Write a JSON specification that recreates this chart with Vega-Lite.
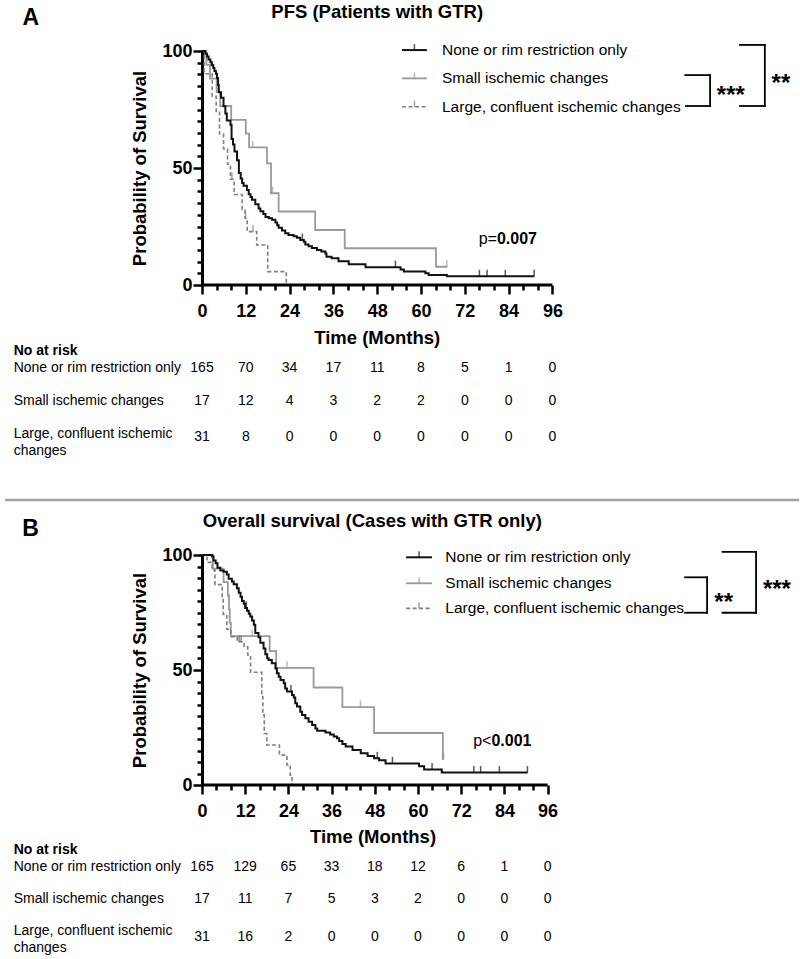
{
  "$schema": "https://vega.github.io/schema/vega-lite/v6.json",
  "padding": {"left": 3, "top": 3, "right": 3, "bottom": 2},
  "autosize": {"type": "pad"},
  "spacing": 270,
  "bounds": "flush",
  "config": {
    "font": "Liberation Sans",
    "view": {"stroke": null},
    "axis": {"grid": false, "labelFont": "Liberation Sans", "titleFont": "Liberation Sans", "labelColor": "#000000", "titleColor": "#000000", "tickColor": "#000000", "domainColor": "#000000"},
    "text": {"color": "#000000", "font": "Liberation Sans"}
  },
  "datasets": {
    "kmA": [
      {"group": "None or rim restriction only", "month": 0, "survival": 100},
      {"group": "None or rim restriction only", "month": 0.9, "survival": 98.8},
      {"group": "None or rim restriction only", "month": 1.4, "survival": 97.6},
      {"group": "None or rim restriction only", "month": 1.8, "survival": 96.4},
      {"group": "None or rim restriction only", "month": 2.3, "survival": 95.2},
      {"group": "None or rim restriction only", "month": 2.7, "survival": 93.9},
      {"group": "None or rim restriction only", "month": 3.1, "survival": 92.7},
      {"group": "None or rim restriction only", "month": 3.4, "survival": 91.5},
      {"group": "None or rim restriction only", "month": 3.8, "survival": 90.3},
      {"group": "None or rim restriction only", "month": 4.1, "survival": 88.5},
      {"group": "None or rim restriction only", "month": 4.4, "survival": 85.5},
      {"group": "None or rim restriction only", "month": 4.6, "survival": 82.4},
      {"group": "None or rim restriction only", "month": 5.2, "survival": 80.0},
      {"group": "None or rim restriction only", "month": 5.9, "survival": 76.4},
      {"group": "None or rim restriction only", "month": 6.4, "survival": 73.3},
      {"group": "None or rim restriction only", "month": 6.8, "survival": 70.3},
      {"group": "None or rim restriction only", "month": 7.8, "survival": 68.5},
      {"group": "None or rim restriction only", "month": 8.1, "survival": 62.4},
      {"group": "None or rim restriction only", "month": 8.5, "survival": 60.0},
      {"group": "None or rim restriction only", "month": 8.9, "survival": 57.0},
      {"group": "None or rim restriction only", "month": 9.6, "survival": 53.3},
      {"group": "None or rim restriction only", "month": 10.1, "survival": 47.9},
      {"group": "None or rim restriction only", "month": 10.6, "survival": 45.5},
      {"group": "None or rim restriction only", "month": 11.0, "survival": 43.6},
      {"group": "None or rim restriction only", "month": 11.4, "survival": 42.4},
      {"group": "None or rim restriction only", "month": 12.3, "survival": 40.6},
      {"group": "None or rim restriction only", "month": 12.8, "survival": 38.8},
      {"group": "None or rim restriction only", "month": 13.3, "survival": 37.6},
      {"group": "None or rim restriction only", "month": 13.7, "survival": 36.4},
      {"group": "None or rim restriction only", "month": 14.6, "survival": 34.5},
      {"group": "None or rim restriction only", "month": 15.5, "survival": 32.7},
      {"group": "None or rim restriction only", "month": 16.0, "survival": 31.5},
      {"group": "None or rim restriction only", "month": 16.8, "survival": 30.3},
      {"group": "None or rim restriction only", "month": 17.4, "survival": 29.1},
      {"group": "None or rim restriction only", "month": 18.3, "survival": 28.5},
      {"group": "None or rim restriction only", "month": 19.2, "survival": 27.9},
      {"group": "None or rim restriction only", "month": 20.1, "survival": 26.7},
      {"group": "None or rim restriction only", "month": 20.6, "survival": 25.5},
      {"group": "None or rim restriction only", "month": 21.0, "survival": 24.5},
      {"group": "None or rim restriction only", "month": 21.9, "survival": 23.3},
      {"group": "None or rim restriction only", "month": 22.8, "survival": 22.1},
      {"group": "None or rim restriction only", "month": 23.7, "survival": 21.4},
      {"group": "None or rim restriction only", "month": 25.1, "survival": 20.8},
      {"group": "None or rim restriction only", "month": 26.0, "survival": 20.2},
      {"group": "None or rim restriction only", "month": 26.9, "survival": 19.2},
      {"group": "None or rim restriction only", "month": 27.9, "survival": 18.5},
      {"group": "None or rim restriction only", "month": 28.3, "survival": 17.3},
      {"group": "None or rim restriction only", "month": 29.2, "survival": 16.6},
      {"group": "None or rim restriction only", "month": 30.1, "survival": 15.8},
      {"group": "None or rim restriction only", "month": 31.5, "survival": 15.0},
      {"group": "None or rim restriction only", "month": 32.7, "survival": 14.3},
      {"group": "None or rim restriction only", "month": 33.8, "survival": 13.5},
      {"group": "None or rim restriction only", "month": 34.1, "survival": 12.1},
      {"group": "None or rim restriction only", "month": 35.5, "survival": 11.4},
      {"group": "None or rim restriction only", "month": 37.4, "survival": 10.2},
      {"group": "None or rim restriction only", "month": 40.2, "survival": 8.9},
      {"group": "None or rim restriction only", "month": 44.8, "survival": 7.6},
      {"group": "None or rim restriction only", "month": 54.4, "survival": 6.6},
      {"group": "None or rim restriction only", "month": 55.3, "survival": 5.8},
      {"group": "None or rim restriction only", "month": 61.2, "survival": 5.0},
      {"group": "None or rim restriction only", "month": 62.1, "survival": 4.3},
      {"group": "None or rim restriction only", "month": 67.1, "survival": 3.7},
      {"group": "None or rim restriction only", "month": 91.0, "survival": 3.7},
      {"group": "Small ischemic changes", "month": 0, "survival": 100},
      {"group": "Small ischemic changes", "month": 1.2, "survival": 94.1},
      {"group": "Small ischemic changes", "month": 2.2, "survival": 88.2},
      {"group": "Small ischemic changes", "month": 4.0, "survival": 82.4},
      {"group": "Small ischemic changes", "month": 5.0, "survival": 76.5},
      {"group": "Small ischemic changes", "month": 8.0, "survival": 70.6},
      {"group": "Small ischemic changes", "month": 12.0, "survival": 64.7},
      {"group": "Small ischemic changes", "month": 12.9, "survival": 58.8},
      {"group": "Small ischemic changes", "month": 17.8, "survival": 52.0},
      {"group": "Small ischemic changes", "month": 18.9, "survival": 39.2},
      {"group": "Small ischemic changes", "month": 21.0, "survival": 31.4},
      {"group": "Small ischemic changes", "month": 31.0, "survival": 23.5},
      {"group": "Small ischemic changes", "month": 39.1, "survival": 15.7},
      {"group": "Small ischemic changes", "month": 64.1, "survival": 7.8},
      {"group": "Small ischemic changes", "month": 67.1, "survival": 7.8},
      {"group": "Large, confluent ischemic changes", "month": 0, "survival": 100},
      {"group": "Large, confluent ischemic changes", "month": 0.6, "survival": 90.3},
      {"group": "Large, confluent ischemic changes", "month": 2.8, "survival": 80.6},
      {"group": "Large, confluent ischemic changes", "month": 3.9, "survival": 74.2},
      {"group": "Large, confluent ischemic changes", "month": 4.8, "survival": 64.5},
      {"group": "Large, confluent ischemic changes", "month": 5.9, "survival": 58.1},
      {"group": "Large, confluent ischemic changes", "month": 7.0, "survival": 51.6},
      {"group": "Large, confluent ischemic changes", "month": 7.8, "survival": 45.2},
      {"group": "Large, confluent ischemic changes", "month": 8.8, "survival": 38.7},
      {"group": "Large, confluent ischemic changes", "month": 11.0, "survival": 32.3},
      {"group": "Large, confluent ischemic changes", "month": 11.8, "survival": 28.5},
      {"group": "Large, confluent ischemic changes", "month": 12.4, "survival": 22.8},
      {"group": "Large, confluent ischemic changes", "month": 15.0, "survival": 17.1},
      {"group": "Large, confluent ischemic changes", "month": 18.0, "survival": 5.7},
      {"group": "Large, confluent ischemic changes", "month": 23.1, "survival": 0}
    ],
    "censorA": [
      {"group": "None or rim restriction only", "month": 27.5, "survival": 19.2},
      {"group": "None or rim restriction only", "month": 53.0, "survival": 7.6},
      {"group": "None or rim restriction only", "month": 76.0, "survival": 3.7},
      {"group": "None or rim restriction only", "month": 78.1, "survival": 3.7},
      {"group": "None or rim restriction only", "month": 83.1, "survival": 3.7},
      {"group": "None or rim restriction only", "month": 91.0, "survival": 3.7},
      {"group": "Small ischemic changes", "month": 13.9, "survival": 58.8},
      {"group": "Small ischemic changes", "month": 19.3, "survival": 39.2},
      {"group": "Small ischemic changes", "month": 67.1, "survival": 7.8},
      {"group": "Large, confluent ischemic changes", "month": 8.2, "survival": 45.2},
      {"group": "Large, confluent ischemic changes", "month": 11.9, "survival": 28.5},
      {"group": "Large, confluent ischemic changes", "month": 14.0, "survival": 22.8}
    ],
    "riskA": [
      {"group": "None or rim restriction only", "month": 0, "n": 165},
      {"group": "None or rim restriction only", "month": 12, "n": 70},
      {"group": "None or rim restriction only", "month": 24, "n": 34},
      {"group": "None or rim restriction only", "month": 36, "n": 17},
      {"group": "None or rim restriction only", "month": 48, "n": 11},
      {"group": "None or rim restriction only", "month": 60, "n": 8},
      {"group": "None or rim restriction only", "month": 72, "n": 5},
      {"group": "None or rim restriction only", "month": 84, "n": 1},
      {"group": "None or rim restriction only", "month": 96, "n": 0},
      {"group": "Small ischemic changes", "month": 0, "n": 17},
      {"group": "Small ischemic changes", "month": 12, "n": 12},
      {"group": "Small ischemic changes", "month": 24, "n": 4},
      {"group": "Small ischemic changes", "month": 36, "n": 3},
      {"group": "Small ischemic changes", "month": 48, "n": 2},
      {"group": "Small ischemic changes", "month": 60, "n": 2},
      {"group": "Small ischemic changes", "month": 72, "n": 0},
      {"group": "Small ischemic changes", "month": 84, "n": 0},
      {"group": "Small ischemic changes", "month": 96, "n": 0},
      {"group": "Large, confluent ischemic changes", "month": 0, "n": 31},
      {"group": "Large, confluent ischemic changes", "month": 12, "n": 8},
      {"group": "Large, confluent ischemic changes", "month": 24, "n": 0},
      {"group": "Large, confluent ischemic changes", "month": 36, "n": 0},
      {"group": "Large, confluent ischemic changes", "month": 48, "n": 0},
      {"group": "Large, confluent ischemic changes", "month": 60, "n": 0},
      {"group": "Large, confluent ischemic changes", "month": 72, "n": 0},
      {"group": "Large, confluent ischemic changes", "month": 84, "n": 0},
      {"group": "Large, confluent ischemic changes", "month": 96, "n": 0}
    ],
    "kmB": [
      {"group": "None or rim restriction only", "month": 0, "survival": 100},
      {"group": "None or rim restriction only", "month": 2.8, "survival": 99.4},
      {"group": "None or rim restriction only", "month": 3.2, "survival": 97.6},
      {"group": "None or rim restriction only", "month": 3.8, "survival": 96.4},
      {"group": "None or rim restriction only", "month": 4.3, "survival": 94.5},
      {"group": "None or rim restriction only", "month": 5.1, "survival": 93.3},
      {"group": "None or rim restriction only", "month": 6.0, "survival": 92.7},
      {"group": "None or rim restriction only", "month": 6.9, "survival": 91.5},
      {"group": "None or rim restriction only", "month": 7.4, "survival": 89.7},
      {"group": "None or rim restriction only", "month": 8.3, "survival": 88.5},
      {"group": "None or rim restriction only", "month": 8.8, "survival": 87.3},
      {"group": "None or rim restriction only", "month": 9.7, "survival": 85.5},
      {"group": "None or rim restriction only", "month": 10.2, "survival": 83.6},
      {"group": "None or rim restriction only", "month": 10.7, "survival": 81.8},
      {"group": "None or rim restriction only", "month": 11.1, "survival": 80.0},
      {"group": "None or rim restriction only", "month": 11.6, "survival": 78.8},
      {"group": "None or rim restriction only", "month": 12.0, "survival": 77.0},
      {"group": "None or rim restriction only", "month": 12.5, "survival": 75.8},
      {"group": "None or rim restriction only", "month": 13.0, "survival": 74.5},
      {"group": "None or rim restriction only", "month": 13.4, "survival": 73.3},
      {"group": "None or rim restriction only", "month": 13.9, "survival": 71.5},
      {"group": "None or rim restriction only", "month": 14.4, "survival": 69.7},
      {"group": "None or rim restriction only", "month": 14.8, "survival": 66.1},
      {"group": "None or rim restriction only", "month": 15.7, "survival": 64.2},
      {"group": "None or rim restriction only", "month": 16.2, "survival": 61.8},
      {"group": "None or rim restriction only", "month": 17.1, "survival": 59.4},
      {"group": "None or rim restriction only", "month": 17.6, "survival": 56.9},
      {"group": "None or rim restriction only", "month": 18.1, "survival": 55.1},
      {"group": "None or rim restriction only", "month": 18.5, "survival": 54.3},
      {"group": "None or rim restriction only", "month": 19.4, "survival": 52.9},
      {"group": "None or rim restriction only", "month": 20.4, "survival": 50.7},
      {"group": "None or rim restriction only", "month": 20.8, "survival": 48.6},
      {"group": "None or rim restriction only", "month": 21.3, "survival": 47.1},
      {"group": "None or rim restriction only", "month": 21.8, "survival": 45.7},
      {"group": "None or rim restriction only", "month": 22.7, "survival": 44.2},
      {"group": "None or rim restriction only", "month": 23.1, "survival": 42.0},
      {"group": "None or rim restriction only", "month": 23.6, "survival": 40.6},
      {"group": "None or rim restriction only", "month": 25.0, "survival": 39.1},
      {"group": "None or rim restriction only", "month": 25.5, "survival": 38.0},
      {"group": "None or rim restriction only", "month": 25.9, "survival": 35.5},
      {"group": "None or rim restriction only", "month": 26.4, "survival": 34.1},
      {"group": "None or rim restriction only", "month": 27.3, "survival": 31.9},
      {"group": "None or rim restriction only", "month": 27.8, "survival": 30.4},
      {"group": "None or rim restriction only", "month": 28.7, "survival": 29.0},
      {"group": "None or rim restriction only", "month": 29.6, "survival": 27.5},
      {"group": "None or rim restriction only", "month": 30.6, "survival": 26.1},
      {"group": "None or rim restriction only", "month": 31.5, "survival": 24.6},
      {"group": "None or rim restriction only", "month": 32.0, "survival": 23.6},
      {"group": "None or rim restriction only", "month": 34.3, "survival": 22.8},
      {"group": "None or rim restriction only", "month": 35.6, "survival": 22.0},
      {"group": "None or rim restriction only", "month": 36.6, "survival": 21.1},
      {"group": "None or rim restriction only", "month": 37.5, "survival": 20.3},
      {"group": "None or rim restriction only", "month": 38.1, "survival": 19.1},
      {"group": "None or rim restriction only", "month": 39.0, "survival": 17.8},
      {"group": "None or rim restriction only", "month": 39.9, "survival": 16.7},
      {"group": "None or rim restriction only", "month": 41.8, "survival": 15.2},
      {"group": "None or rim restriction only", "month": 44.1, "survival": 13.8},
      {"group": "None or rim restriction only", "month": 46.0, "survival": 12.6},
      {"group": "None or rim restriction only", "month": 47.8, "survival": 11.6},
      {"group": "None or rim restriction only", "month": 49.2, "survival": 10.8},
      {"group": "None or rim restriction only", "month": 51.0, "survival": 9.4},
      {"group": "None or rim restriction only", "month": 60.3, "survival": 8.1},
      {"group": "None or rim restriction only", "month": 61.7, "survival": 6.7},
      {"group": "None or rim restriction only", "month": 66.6, "survival": 5.4},
      {"group": "None or rim restriction only", "month": 90.4, "survival": 5.4},
      {"group": "Small ischemic changes", "month": 0, "survival": 100},
      {"group": "Small ischemic changes", "month": 3.0, "survival": 94.1},
      {"group": "Small ischemic changes", "month": 6.0, "survival": 88.2},
      {"group": "Small ischemic changes", "month": 7.2, "survival": 82.4},
      {"group": "Small ischemic changes", "month": 7.5, "survival": 76.5},
      {"group": "Small ischemic changes", "month": 7.7, "survival": 70.6},
      {"group": "Small ischemic changes", "month": 8.0, "survival": 64.7},
      {"group": "Small ischemic changes", "month": 18.8, "survival": 58.2},
      {"group": "Small ischemic changes", "month": 20.6, "survival": 50.9},
      {"group": "Small ischemic changes", "month": 31.0, "survival": 42.4},
      {"group": "Small ischemic changes", "month": 39.0, "survival": 33.9},
      {"group": "Small ischemic changes", "month": 47.8, "survival": 22.6},
      {"group": "Small ischemic changes", "month": 66.9, "survival": 11.3},
      {"group": "Small ischemic changes", "month": 67.1, "survival": 11.3},
      {"group": "Large, confluent ischemic changes", "month": 0, "survival": 100},
      {"group": "Large, confluent ischemic changes", "month": 1.4, "survival": 96.8},
      {"group": "Large, confluent ischemic changes", "month": 2.8, "survival": 93.5},
      {"group": "Large, confluent ischemic changes", "month": 3.6, "survival": 87.1},
      {"group": "Large, confluent ischemic changes", "month": 5.6, "survival": 80.6},
      {"group": "Large, confluent ischemic changes", "month": 5.9, "survival": 74.2},
      {"group": "Large, confluent ischemic changes", "month": 6.9, "survival": 67.7},
      {"group": "Large, confluent ischemic changes", "month": 8.0, "survival": 64.5},
      {"group": "Large, confluent ischemic changes", "month": 9.8, "survival": 62.3},
      {"group": "Large, confluent ischemic changes", "month": 11.7, "survival": 60.1},
      {"group": "Large, confluent ischemic changes", "month": 12.7, "survival": 56.5},
      {"group": "Large, confluent ischemic changes", "month": 13.5, "survival": 49.0},
      {"group": "Large, confluent ischemic changes", "month": 16.6, "survival": 39.2},
      {"group": "Large, confluent ischemic changes", "month": 16.9, "survival": 30.5},
      {"group": "Large, confluent ischemic changes", "month": 17.3, "survival": 22.4},
      {"group": "Large, confluent ischemic changes", "month": 18.0, "survival": 17.4},
      {"group": "Large, confluent ischemic changes", "month": 21.5, "survival": 13.0},
      {"group": "Large, confluent ischemic changes", "month": 23.6, "survival": 8.7},
      {"group": "Large, confluent ischemic changes", "month": 24.5, "survival": 4.3},
      {"group": "Large, confluent ischemic changes", "month": 25.0, "survival": 0}
    ],
    "censorB": [
      {"group": "None or rim restriction only", "month": 12.3, "survival": 77.0},
      {"group": "None or rim restriction only", "month": 24.7, "survival": 40.6},
      {"group": "None or rim restriction only", "month": 48.7, "survival": 11.6},
      {"group": "None or rim restriction only", "month": 52.9, "survival": 9.4},
      {"group": "None or rim restriction only", "month": 63.9, "survival": 6.7},
      {"group": "None or rim restriction only", "month": 75.5, "survival": 5.4},
      {"group": "None or rim restriction only", "month": 77.4, "survival": 5.4},
      {"group": "None or rim restriction only", "month": 82.6, "survival": 5.4},
      {"group": "None or rim restriction only", "month": 90.4, "survival": 5.4},
      {"group": "Small ischemic changes", "month": 13.9, "survival": 64.7},
      {"group": "Small ischemic changes", "month": 23.6, "survival": 50.9},
      {"group": "Small ischemic changes", "month": 44.0, "survival": 33.9},
      {"group": "Small ischemic changes", "month": 67.1, "survival": 11.3},
      {"group": "Large, confluent ischemic changes", "month": 10.2, "survival": 62.3},
      {"group": "Large, confluent ischemic changes", "month": 10.5, "survival": 62.3},
      {"group": "Large, confluent ischemic changes", "month": 10.9, "survival": 62.3}
    ],
    "riskB": [
      {"group": "None or rim restriction only", "month": 0, "n": 165},
      {"group": "None or rim restriction only", "month": 12, "n": 129},
      {"group": "None or rim restriction only", "month": 24, "n": 65},
      {"group": "None or rim restriction only", "month": 36, "n": 33},
      {"group": "None or rim restriction only", "month": 48, "n": 18},
      {"group": "None or rim restriction only", "month": 60, "n": 12},
      {"group": "None or rim restriction only", "month": 72, "n": 6},
      {"group": "None or rim restriction only", "month": 84, "n": 1},
      {"group": "None or rim restriction only", "month": 96, "n": 0},
      {"group": "Small ischemic changes", "month": 0, "n": 17},
      {"group": "Small ischemic changes", "month": 12, "n": 11},
      {"group": "Small ischemic changes", "month": 24, "n": 7},
      {"group": "Small ischemic changes", "month": 36, "n": 5},
      {"group": "Small ischemic changes", "month": 48, "n": 3},
      {"group": "Small ischemic changes", "month": 60, "n": 2},
      {"group": "Small ischemic changes", "month": 72, "n": 0},
      {"group": "Small ischemic changes", "month": 84, "n": 0},
      {"group": "Small ischemic changes", "month": 96, "n": 0},
      {"group": "Large, confluent ischemic changes", "month": 0, "n": 31},
      {"group": "Large, confluent ischemic changes", "month": 12, "n": 16},
      {"group": "Large, confluent ischemic changes", "month": 24, "n": 2},
      {"group": "Large, confluent ischemic changes", "month": 36, "n": 0},
      {"group": "Large, confluent ischemic changes", "month": 48, "n": 0},
      {"group": "Large, confluent ischemic changes", "month": 60, "n": 0},
      {"group": "Large, confluent ischemic changes", "month": 72, "n": 0},
      {"group": "Large, confluent ischemic changes", "month": 84, "n": 0},
      {"group": "Large, confluent ischemic changes", "month": 96, "n": 0}
    ]
  },
  "vconcat": [
    {
      "data": {"values": [{}]},
      "width": 584,
      "height": 234,
      "resolve": {"axis": {"x": "independent", "y": "independent"}},
      "layer": [
        {
          "data": {"name": "kmA"},
          "transform": [{"filter": "datum.group === 'Small ischemic changes'"}],
          "mark": {"type": "line", "interpolate": "step-after", "color": "#999999", "strokeWidth": 1.8},
          "encoding": {
            "x": {"field": "month", "type": "quantitative", "scale": {"domain": [0, 160], "nice": false, "zero": false},
              "axis": {"orient": "bottom", "values": [0, 12, 24, 36, 48, 60, 72, 84, 96], "domain": false, "tickSize": 9, "tickWidth": 2.5, "labelFontSize": 18, "labelFontWeight": "bold", "labelPadding": 8, "labelFlush": false, "labelOverlap": false, "title": null}},
            "y": {"field": "survival", "type": "quantitative", "scale": {"domain": [0, 100], "nice": false},
              "axis": {"orient": "left", "values": [0, 50, 100], "domainWidth": 3, "tickSize": 9, "tickWidth": 2.5, "labelFontSize": 18, "labelFontWeight": "bold", "labelPadding": 1, "labelOverlap": false, "title": "Probability of Survival", "titleFontSize": 18.5, "titleFontWeight": "bold", "titlePadding": 12}}
          }
        },
        {
          "data": {"name": "kmA"},
          "transform": [{"filter": "datum.group === 'Large, confluent ischemic changes'"}],
          "mark": {"type": "line", "interpolate": "step-after", "color": "#7f7f7f", "strokeWidth": 1.6, "strokeDash": [4, 2.5]},
          "encoding": {
            "x": {"field": "month", "type": "quantitative",
              "axis": {"orient": "bottom", "values": [4, 8, 16, 20, 28, 32, 40, 44, 52, 56, 64, 68, 76, 80, 88, 92], "domain": false, "labels": false, "tickSize": 5, "tickWidth": 2.5, "title": null}},
            "y": {"field": "survival", "type": "quantitative",
              "axis": {"orient": "left", "values": [5, 10, 15, 20, 25, 30, 35, 40, 45, 55, 60, 65, 70, 75, 80, 85, 90, 95], "domain": false, "labels": false, "tickSize": 5, "tickWidth": 2.5, "title": null}}
          }
        },
        {
          "data": {"name": "kmA"},
          "transform": [{"filter": "datum.group === 'None or rim restriction only'"}],
          "mark": {"type": "line", "interpolate": "step-after", "color": "#111111", "strokeWidth": 2},
          "encoding": {"x": {"field": "month", "type": "quantitative", "axis": null}, "y": {"field": "survival", "type": "quantitative", "axis": null}}
        },
        {
          "data": {"name": "censorA"},
          "mark": {"type": "tick", "orient": "vertical", "size": 7, "thickness": 1.5, "yOffset": -3},
          "encoding": {
            "x": {"field": "month", "type": "quantitative", "axis": null},
            "y": {"field": "survival", "type": "quantitative", "axis": null},
            "color": {"field": "group", "type": "nominal", "scale": {"domain": ["None or rim restriction only", "Small ischemic changes", "Large, confluent ischemic changes"], "range": ["#111111", "#999999", "#7f7f7f"]}, "legend": null}
          }
        },
        {"mark": {"type": "rule", "color": "#000000", "strokeWidth": 3}, "encoding": {"x": {"datum": 0, "axis": null}, "x2": {"datum": 96}, "y": {"datum": 0, "axis": null}}},

        {"mark": {"type": "rule", "color": "#111111", "strokeWidth": 2}, "encoding": {"x": {"datum": 54.8, "axis": null}, "x2": {"datum": 61.6}, "y": {"datum": 100.4, "axis": null}}},
        {"mark": {"type": "rule", "color": "#999999", "strokeWidth": 1.8}, "encoding": {"x": {"datum": 54.8, "axis": null}, "x2": {"datum": 61.6}, "y": {"datum": 88.3, "axis": null}}},
        {"mark": {"type": "rule", "color": "#7f7f7f", "strokeWidth": 1.6, "strokeDash": [4, 2.5]}, "encoding": {"x": {"datum": 54.8, "axis": null}, "x2": {"datum": 61.6}, "y": {"datum": 76.2, "axis": null}}},
        {"mark": {"type": "tick", "orient": "vertical", "size": 6, "thickness": 1.5, "yOffset": -3, "color": "#111111"}, "encoding": {"x": {"datum": 58.2, "axis": null}, "y": {"datum": 100.4, "axis": null}}},
        {"mark": {"type": "tick", "orient": "vertical", "size": 6, "thickness": 1.5, "yOffset": -3, "color": "#999999"}, "encoding": {"x": {"datum": 58.2, "axis": null}, "y": {"datum": 88.3, "axis": null}}},
        {"mark": {"type": "tick", "orient": "vertical", "size": 6, "thickness": 1.5, "yOffset": -3, "color": "#7f7f7f"}, "encoding": {"x": {"datum": 58.2, "axis": null}, "y": {"datum": 76.2, "axis": null}}},
        {"mark": {"type": "text", "align": "left", "fontSize": 15.5, "text": "None or rim restriction only"}, "encoding": {"x": {"datum": 65.75, "axis": null}, "y": {"datum": 100.4, "axis": null}}},
        {"mark": {"type": "text", "align": "left", "fontSize": 15.5, "text": "Small ischemic changes"}, "encoding": {"x": {"datum": 65.75, "axis": null}, "y": {"datum": 88.3, "axis": null}}},
        {"mark": {"type": "text", "align": "left", "fontSize": 15.5, "text": "Large, confluent ischemic changes"}, "encoding": {"x": {"datum": 65.75, "axis": null}, "y": {"datum": 76.2, "axis": null}}},

        {"mark": {"type": "rule", "color": "#000000", "strokeWidth": 1.8, "strokeCap": "square"}, "encoding": {"x": {"datum": 132.4, "axis": null}, "x2": {"datum": 139.2}, "y": {"datum": 89.7, "axis": null}}},
        {"mark": {"type": "rule", "color": "#000000", "strokeWidth": 1.8, "strokeCap": "square"}, "encoding": {"x": {"datum": 139.2, "axis": null}, "y": {"datum": 89.7, "axis": null}, "y2": {"datum": 76.5}}},
        {"mark": {"type": "rule", "color": "#000000", "strokeWidth": 1.8, "strokeCap": "square"}, "encoding": {"x": {"datum": 132.6, "axis": null}, "x2": {"datum": 139.2}, "y": {"datum": 76.5, "axis": null}}},
        {"mark": {"type": "rule", "color": "#000000", "strokeWidth": 1.8, "strokeCap": "square"}, "encoding": {"x": {"datum": 147.4, "axis": null}, "x2": {"datum": 154.2}, "y": {"datum": 102.6, "axis": null}}},
        {"mark": {"type": "rule", "color": "#000000", "strokeWidth": 1.8, "strokeCap": "square"}, "encoding": {"x": {"datum": 154.2, "axis": null}, "y": {"datum": 102.6, "axis": null}, "y2": {"datum": 76.5}}},
        {"mark": {"type": "rule", "color": "#000000", "strokeWidth": 1.8, "strokeCap": "square"}, "encoding": {"x": {"datum": 147.4, "axis": null}, "x2": {"datum": 154.2}, "y": {"datum": 76.5, "axis": null}}},
        {"mark": {"type": "text", "align": "center", "baseline": "alphabetic", "fontSize": 24, "fontWeight": "bold", "text": "***"}, "encoding": {"x": {"datum": 144.9, "axis": null}, "y": {"datum": 77.9, "axis": null}}},
        {"mark": {"type": "text", "align": "center", "baseline": "alphabetic", "fontSize": 24, "fontWeight": "bold", "text": "**"}, "encoding": {"x": {"datum": 158.6, "axis": null}, "y": {"datum": 83.1, "axis": null}}},

        {"mark": {"type": "text", "align": "right", "fontSize": 16, "text": "p="}, "encoding": {"x": {"datum": 80.8, "axis": null}, "y": {"datum": 19.5, "axis": null}}},
        {"mark": {"type": "text", "align": "left", "fontSize": 16, "fontWeight": "bold", "text": "0.007"}, "encoding": {"x": {"datum": 80.8, "axis": null}, "y": {"datum": 19.5, "axis": null}}},

        {"mark": {"type": "text", "align": "center", "fontSize": 18.5, "fontWeight": "bold", "text": "PFS (Patients with GTR)"}, "encoding": {"x": {"datum": 48, "axis": null}, "y": {"datum": 116.5, "axis": null}}},
        {"mark": {"type": "text", "align": "center", "fontSize": 23, "fontWeight": "bold", "text": "A"}, "encoding": {"x": {"datum": -46.9, "axis": null}, "y": {"datum": 114.1, "axis": null}}},
        {"mark": {"type": "text", "align": "center", "fontSize": 18.5, "fontWeight": "bold", "text": "Time (Months)"}, "encoding": {"x": {"datum": 48, "axis": null}, "y": {"datum": -22.6, "axis": null}}},

        {"mark": {"type": "text", "align": "left", "fontSize": 14, "fontWeight": "bold", "text": "No at risk"}, "encoding": {"x": {"datum": -51.6, "axis": null}, "y": {"datum": -28.2, "axis": null}}},
        {"mark": {"type": "text", "align": "left", "fontSize": 14, "text": "None or rim restriction only"}, "encoding": {"x": {"datum": -51.6, "axis": null}, "y": {"datum": -35.6, "axis": null}}},
        {"mark": {"type": "text", "align": "left", "fontSize": 14, "text": "Small ischemic changes"}, "encoding": {"x": {"datum": -51.6, "axis": null}, "y": {"datum": -49.4, "axis": null}}},
        {"mark": {"type": "text", "align": "left", "fontSize": 14, "text": "Large, confluent ischemic\nchanges", "lineBreak": "\n", "lineHeight": 16.7}, "encoding": {"x": {"datum": -51.6, "axis": null}, "y": {"datum": -63.7, "axis": null}}},
        {
          "data": {"name": "riskA"},
          "transform": [{"filter": "datum.group === 'None or rim restriction only'"}],
          "mark": {"type": "text", "fontSize": 14},
          "encoding": {"x": {"field": "month", "type": "quantitative", "axis": null}, "y": {"datum": -35.6, "axis": null}, "text": {"field": "n"}}
        },
        {
          "data": {"name": "riskA"},
          "transform": [{"filter": "datum.group === 'Small ischemic changes'"}],
          "mark": {"type": "text", "fontSize": 14},
          "encoding": {"x": {"field": "month", "type": "quantitative", "axis": null}, "y": {"datum": -49.4, "axis": null}, "text": {"field": "n"}}
        },
        {
          "data": {"name": "riskA"},
          "transform": [{"filter": "datum.group === 'Large, confluent ischemic changes'"}],
          "mark": {"type": "text", "fontSize": 14},
          "encoding": {"x": {"field": "month", "type": "quantitative", "axis": null}, "y": {"datum": -64.8, "axis": null}, "text": {"field": "n"}}
        },
        {"mark": {"type": "rule", "color": "#a0a0a0", "strokeWidth": 2.5}, "encoding": {"x": {"datum": -53.97, "axis": null}, "x2": {"datum": 163.6}, "y": {"datum": -91.9, "axis": null}}}
      ]
    },
    {
      "data": {"values": [{}]},
      "width": 576,
      "height": 230,
      "resolve": {"axis": {"x": "independent", "y": "independent"}},
      "layer": [
        {
          "data": {"name": "kmB"},
          "transform": [{"filter": "datum.group === 'Small ischemic changes'"}],
          "mark": {"type": "line", "interpolate": "step-after", "color": "#999999", "strokeWidth": 1.8},
          "encoding": {
            "x": {"field": "month", "type": "quantitative", "scale": {"domain": [0, 160], "nice": false, "zero": false},
              "axis": {"orient": "bottom", "values": [0, 12, 24, 36, 48, 60, 72, 84, 96], "domain": false, "tickSize": 9, "tickWidth": 2.5, "labelFontSize": 18, "labelFontWeight": "bold", "labelPadding": 8, "labelFlush": false, "labelOverlap": false, "title": null}},
            "y": {"field": "survival", "type": "quantitative", "scale": {"domain": [0, 100], "nice": false},
              "axis": {"orient": "left", "values": [0, 50, 100], "domainWidth": 3, "tickSize": 9, "tickWidth": 2.5, "labelFontSize": 18, "labelFontWeight": "bold", "labelPadding": 1, "labelOverlap": false, "title": "Probability of Survival", "titleFontSize": 18.5, "titleFontWeight": "bold", "titlePadding": 12}}
          }
        },
        {
          "data": {"name": "kmB"},
          "transform": [{"filter": "datum.group === 'Large, confluent ischemic changes'"}],
          "mark": {"type": "line", "interpolate": "step-after", "color": "#7f7f7f", "strokeWidth": 1.6, "strokeDash": [4, 2.5]},
          "encoding": {
            "x": {"field": "month", "type": "quantitative",
              "axis": {"orient": "bottom", "values": [4, 8, 16, 20, 28, 32, 40, 44, 52, 56, 64, 68, 76, 80, 88, 92], "domain": false, "labels": false, "tickSize": 5, "tickWidth": 2.5, "title": null}},
            "y": {"field": "survival", "type": "quantitative",
              "axis": {"orient": "left", "values": [5, 10, 15, 20, 25, 30, 35, 40, 45, 55, 60, 65, 70, 75, 80, 85, 90, 95], "domain": false, "labels": false, "tickSize": 5, "tickWidth": 2.5, "title": null}}
          }
        },
        {
          "data": {"name": "kmB"},
          "transform": [{"filter": "datum.group === 'None or rim restriction only'"}],
          "mark": {"type": "line", "interpolate": "step-after", "color": "#111111", "strokeWidth": 2},
          "encoding": {"x": {"field": "month", "type": "quantitative", "axis": null}, "y": {"field": "survival", "type": "quantitative", "axis": null}}
        },
        {
          "data": {"name": "censorB"},
          "mark": {"type": "tick", "orient": "vertical", "size": 7, "thickness": 1.5, "yOffset": -3},
          "encoding": {
            "x": {"field": "month", "type": "quantitative", "axis": null},
            "y": {"field": "survival", "type": "quantitative", "axis": null},
            "color": {"field": "group", "type": "nominal", "scale": {"domain": ["None or rim restriction only", "Small ischemic changes", "Large, confluent ischemic changes"], "range": ["#111111", "#999999", "#7f7f7f"]}, "legend": null}
          }
        },
        {"mark": {"type": "rule", "color": "#000000", "strokeWidth": 3}, "encoding": {"x": {"datum": 0, "axis": null}, "x2": {"datum": 96}, "y": {"datum": 0, "axis": null}}},

        {"mark": {"type": "rule", "color": "#111111", "strokeWidth": 2}, "encoding": {"x": {"datum": 56.7, "axis": null}, "x2": {"datum": 63.9}, "y": {"datum": 99.0, "axis": null}}},
        {"mark": {"type": "rule", "color": "#999999", "strokeWidth": 1.8}, "encoding": {"x": {"datum": 56.7, "axis": null}, "x2": {"datum": 63.9}, "y": {"datum": 87.7, "axis": null}}},
        {"mark": {"type": "rule", "color": "#7f7f7f", "strokeWidth": 1.6, "strokeDash": [4, 2.5]}, "encoding": {"x": {"datum": 56.7, "axis": null}, "x2": {"datum": 63.9}, "y": {"datum": 76.8, "axis": null}}},
        {"mark": {"type": "tick", "orient": "vertical", "size": 6, "thickness": 1.5, "yOffset": -3, "color": "#111111"}, "encoding": {"x": {"datum": 60.3, "axis": null}, "y": {"datum": 99.0, "axis": null}}},
        {"mark": {"type": "tick", "orient": "vertical", "size": 6, "thickness": 1.5, "yOffset": -3, "color": "#999999"}, "encoding": {"x": {"datum": 60.3, "axis": null}, "y": {"datum": 87.7, "axis": null}}},
        {"mark": {"type": "tick", "orient": "vertical", "size": 6, "thickness": 1.5, "yOffset": -3, "color": "#7f7f7f"}, "encoding": {"x": {"datum": 60.3, "axis": null}, "y": {"datum": 76.8, "axis": null}}},
        {"mark": {"type": "text", "align": "left", "fontSize": 15.5, "text": "None or rim restriction only"}, "encoding": {"x": {"datum": 67.6, "axis": null}, "y": {"datum": 99.0, "axis": null}}},
        {"mark": {"type": "text", "align": "left", "fontSize": 15.5, "text": "Small ischemic changes"}, "encoding": {"x": {"datum": 67.6, "axis": null}, "y": {"datum": 87.7, "axis": null}}},
        {"mark": {"type": "text", "align": "left", "fontSize": 15.5, "text": "Large, confluent ischemic changes"}, "encoding": {"x": {"datum": 67.6, "axis": null}, "y": {"datum": 76.8, "axis": null}}},

        {"mark": {"type": "rule", "color": "#000000", "strokeWidth": 1.8, "strokeCap": "square"}, "encoding": {"x": {"datum": 134.2, "axis": null}, "x2": {"datum": 140.3}, "y": {"datum": 90.3, "axis": null}}},
        {"mark": {"type": "rule", "color": "#000000", "strokeWidth": 1.8, "strokeCap": "square"}, "encoding": {"x": {"datum": 140.3, "axis": null}, "y": {"datum": 90.3, "axis": null}, "y2": {"datum": 74.9}}},
        {"mark": {"type": "rule", "color": "#000000", "strokeWidth": 1.8, "strokeCap": "square"}, "encoding": {"x": {"datum": 134.2, "axis": null}, "x2": {"datum": 140.3}, "y": {"datum": 74.9, "axis": null}}},
        {"mark": {"type": "rule", "color": "#000000", "strokeWidth": 1.8, "strokeCap": "square"}, "encoding": {"x": {"datum": 144.6, "axis": null}, "x2": {"datum": 153.9}, "y": {"datum": 101.4, "axis": null}}},
        {"mark": {"type": "rule", "color": "#000000", "strokeWidth": 1.8, "strokeCap": "square"}, "encoding": {"x": {"datum": 153.9, "axis": null}, "y": {"datum": 101.4, "axis": null}, "y2": {"datum": 74.9}}},
        {"mark": {"type": "rule", "color": "#000000", "strokeWidth": 1.8, "strokeCap": "square"}, "encoding": {"x": {"datum": 144.6, "axis": null}, "x2": {"datum": 153.9}, "y": {"datum": 74.9, "axis": null}}},
        {"mark": {"type": "text", "align": "center", "baseline": "alphabetic", "fontSize": 24, "fontWeight": "bold", "text": "**"}, "encoding": {"x": {"datum": 144.9, "axis": null}, "y": {"datum": 76.1, "axis": null}}},
        {"mark": {"type": "text", "align": "center", "baseline": "alphabetic", "fontSize": 24, "fontWeight": "bold", "text": "***"}, "encoding": {"x": {"datum": 159.7, "axis": null}, "y": {"datum": 81.7, "axis": null}}},

        {"mark": {"type": "text", "align": "right", "fontSize": 16, "text": "p<"}, "encoding": {"x": {"datum": 80.4, "axis": null}, "y": {"datum": 19.3, "axis": null}}},
        {"mark": {"type": "text", "align": "left", "fontSize": 16, "fontWeight": "bold", "text": "0.001"}, "encoding": {"x": {"datum": 80.4, "axis": null}, "y": {"datum": 19.3, "axis": null}}},

        {"mark": {"type": "text", "align": "center", "fontSize": 18.5, "fontWeight": "bold", "text": "Overall survival (Cases with GTR only)"}, "encoding": {"x": {"datum": 47.3, "axis": null}, "y": {"datum": 114.8, "axis": null}}},
        {"mark": {"type": "text", "align": "center", "fontSize": 23, "fontWeight": "bold", "text": "B"}, "encoding": {"x": {"datum": -47.6, "axis": null}, "y": {"datum": 111.4, "axis": null}}},
        {"mark": {"type": "text", "align": "center", "fontSize": 18.5, "fontWeight": "bold", "text": "Time (Months)"}, "encoding": {"x": {"datum": 47.5, "axis": null}, "y": {"datum": -22.7, "axis": null}}},

        {"mark": {"type": "text", "align": "left", "fontSize": 14, "fontWeight": "bold", "text": "No at risk"}, "encoding": {"x": {"datum": -52.3, "axis": null}, "y": {"datum": -28.3, "axis": null}}},
        {"mark": {"type": "text", "align": "left", "fontSize": 14, "text": "None or rim restriction only"}, "encoding": {"x": {"datum": -52.3, "axis": null}, "y": {"datum": -35.8, "axis": null}}},
        {"mark": {"type": "text", "align": "left", "fontSize": 14, "text": "Small ischemic changes"}, "encoding": {"x": {"datum": -52.3, "axis": null}, "y": {"datum": -49.7, "axis": null}}},
        {"mark": {"type": "text", "align": "left", "fontSize": 14, "text": "Large, confluent ischemic\nchanges", "lineBreak": "\n", "lineHeight": 17}, "encoding": {"x": {"datum": -52.3, "axis": null}, "y": {"datum": -63.3, "axis": null}}},
        {
          "data": {"name": "riskB"},
          "transform": [{"filter": "datum.group === 'None or rim restriction only'"}],
          "mark": {"type": "text", "fontSize": 14},
          "encoding": {"x": {"field": "month", "type": "quantitative", "axis": null}, "y": {"datum": -35.8, "axis": null}, "text": {"field": "n"}}
        },
        {
          "data": {"name": "riskB"},
          "transform": [{"filter": "datum.group === 'Small ischemic changes'"}],
          "mark": {"type": "text", "fontSize": 14},
          "encoding": {"x": {"field": "month", "type": "quantitative", "axis": null}, "y": {"datum": -49.7, "axis": null}, "text": {"field": "n"}}
        },
        {
          "data": {"name": "riskB"},
          "transform": [{"filter": "datum.group === 'Large, confluent ischemic changes'"}],
          "mark": {"type": "text", "fontSize": 14},
          "encoding": {"x": {"field": "month", "type": "quantitative", "axis": null}, "y": {"datum": -66.0, "axis": null}, "text": {"field": "n"}}
        }
      ]
    }
  ]
}
